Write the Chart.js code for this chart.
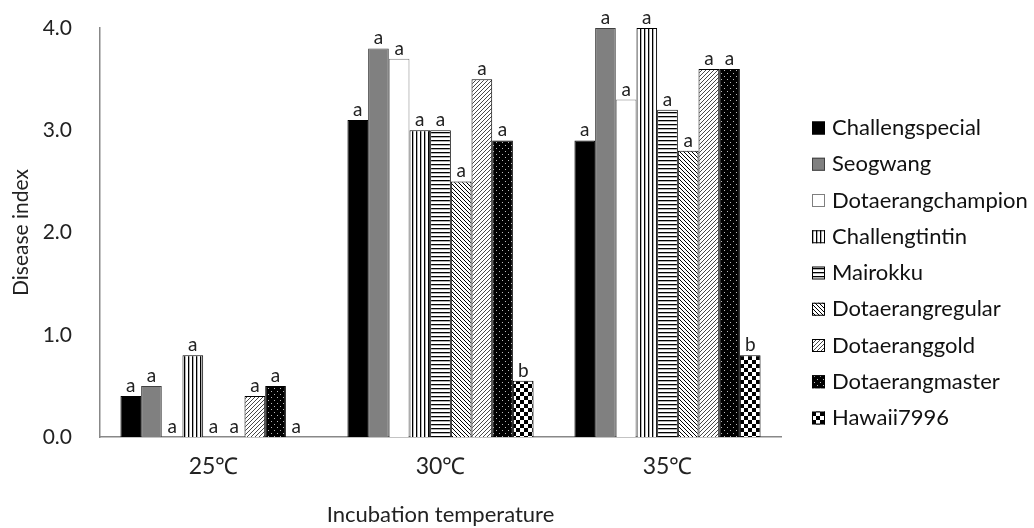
<!DOCTYPE html>
<html>
<head>
<meta charset="utf-8">
<script src="https://cdn.jsdelivr.net/npm/chart.js@4"></script>
<style>
  html, body { margin: 0; background: #fff; }
  #wrap { width: 1034px; height: 528px; }
</style>
</head>
<body>
<div id="wrap"><canvas id="chartDisease"></canvas></div>
<script>
// Datos
var temperaturas = ['25℃', '30℃', '35℃'];
var variedades = ['Challengspecial', 'Seogwang', 'Dotaerangchampion', 'Challengtintin', 'Mairokku',
  'Dotaerangregular', 'Dotaeranggold', 'Dotaerangmaster', 'Hawaii7996'];

var challengspecial   = [0.4, 3.1, 2.9];
var seogwang          = [0.5, 3.8, 4.0];
var dotaerangchampion = [0.0, 3.7, 3.3];
var challengtintin    = [0.8, 3.0, 4.0];
var mairokku          = [0.0, 3.0, 3.2];
var dotaerangregular  = [0.0, 2.5, 2.8];
var dotaeranggold     = [0.4, 3.5, 3.6];
var dotaerangmaster   = [0.5, 2.9, 3.6];
var hawaii7996        = [0.0, 0.55, 0.8];

// letras de significancia (por variedad, por temperatura)
var letrasHawaii = ['a', 'b', 'b'];
var letrasResto = ['a', 'a', 'a'];

var yTicks = [0, 1, 2, 3, 4];

var FONT = 'Lato, "Liberation Sans", sans-serif';

// Patrones de relleno
function tile(w, h, draw) {
  var c = document.createElement('canvas');
  c.width = w; c.height = h;
  var g = c.getContext('2d');
  draw(g, w, h);
  return document.createElement('canvas').getContext('2d').createPattern(c, 'repeat');
}

var patVertical = tile(4, 4, function (g) {
  g.fillStyle = '#fff'; g.fillRect(0, 0, 4, 4);
  g.fillStyle = '#000'; g.fillRect(0, 0, 1.3, 4);
});
var patHorizontal = tile(4, 4, function (g) {
  g.fillStyle = '#fff'; g.fillRect(0, 0, 4, 4);
  g.fillStyle = '#000'; g.fillRect(0, 0, 4, 1.3);
});
var patBack = tile(4, 4, function (g) {
  g.fillStyle = '#fff'; g.fillRect(0, 0, 4, 4);
  g.strokeStyle = '#000'; g.lineWidth = 1;
  g.beginPath();
  g.moveTo(-1, -1); g.lineTo(5, 5);
  g.moveTo(-1, 3); g.lineTo(1, 5);
  g.moveTo(3, -1); g.lineTo(5, 1);
  g.stroke();
});
var patForward = tile(4, 4, function (g) {
  g.fillStyle = '#fff'; g.fillRect(0, 0, 4, 4);
  g.strokeStyle = '#333'; g.lineWidth = 0.9;
  g.beginPath();
  g.moveTo(-1, 5); g.lineTo(5, -1);
  g.moveTo(-1, 1); g.lineTo(1, -1);
  g.moveTo(3, 5); g.lineTo(5, 3);
  g.stroke();
});
var patDots = tile(6, 6, function (g) {
  g.fillStyle = '#000'; g.fillRect(0, 0, 6, 6);
  g.fillStyle = '#bbb'; g.fillRect(1, 1, 1, 1);
  g.fillRect(4, 4, 1, 1);
});
var patChecker = tile(8, 8, function (g) {
  g.fillStyle = '#fff'; g.fillRect(0, 0, 8, 8);
  g.fillStyle = '#000'; g.fillRect(0, 0, 4, 4); g.fillRect(4, 4, 4, 4);
});

var series = [challengspecial, seogwang, dotaerangchampion, challengtintin, mairokku,
  dotaerangregular, dotaeranggold, dotaerangmaster, hawaii7996];
var rellenos = ['#000000', '#808080', '#ffffff', patVertical, patHorizontal, patBack, patForward, patDots, patChecker];
var bordes = ['#000', '#404040', '#7f7f7f', '#000', '#000', '#000', '#000', '#000', '#000'];

var datasets = [];
for (var i = 0; i < series.length; i++) {
  datasets.push({
    label: variedades[i],
    data: series[i],
    backgroundColor: rellenos[i],
    borderColor: bordes[i],
    borderWidth: 1,
    letras: i === 8 ? letrasHawaii : letrasResto,
    categoryPercentage: 0.82,
    barPercentage: 1.0
  });
}

// Letras sobre cada barra
var letrasPlugin = {
  id: 'letras',
  afterDatasetsDraw: function (chart) {
    var ctx = chart.ctx;
    ctx.save();
    ctx.font = '19px ' + FONT;
    ctx.fillStyle = '#222';
    ctx.textAlign = 'center';
    ctx.textBaseline = 'alphabetic';
    chart.data.datasets.forEach(function (ds, i) {
      chart.getDatasetMeta(i).data.forEach(function (bar, j) {
        ctx.fillText(ds.letras[j], bar.x, bar.y - 4);
      });
    });
    ctx.restore();
  }
};

// Leyenda a la derecha
var leyendaPlugin = {
  id: 'leyenda',
  afterDraw: function (chart) {
    var ctx = chart.ctx;
    ctx.save();
    ctx.font = '22px ' + FONT;
    ctx.textBaseline = 'middle';
    ctx.fillStyle = '#111';
    chart.data.datasets.forEach(function (ds, i) {
      var y = 128 + i * 36.25;
      ctx.fillStyle = ds.backgroundColor;
      ctx.fillRect(812, y - 6.5, 13, 13);
      ctx.strokeStyle = ds.borderColor;
      ctx.lineWidth = 1;
      ctx.strokeRect(812.5, y - 6, 12, 12);
      ctx.fillStyle = '#111';
      ctx.fillText(ds.label, 832, y);
    });
    ctx.restore();
  }
};

new Chart(document.getElementById('chartDisease'), {
  type: 'bar',
  data: { labels: temperaturas, datasets: datasets },
  plugins: [letrasPlugin, leyendaPlugin],
  options: {
    responsive: true,
    maintainAspectRatio: false,
    animation: false,
    layout: { padding: { top: 28, right: 253, left: 0, bottom: 0 } },
    plugins: { legend: { display: false }, tooltip: { enabled: false } },
    scales: {
      x: {
        grid: { display: false, drawTicks: false },
        border: { color: '#888', width: 1.5 },
        ticks: { color: '#222', font: { size: 23, family: FONT }, padding: 16 },
        title: { display: true, text: 'Incubation temperature', color: '#222', font: { size: 22, family: FONT }, padding: 0 },
        afterFit: function (s) { s.height = 91; }
      },
      y: {
        min: 0, max: 4,
        afterBuildTicks: function (s) { s.ticks = yTicks.map(function (v) { return { value: v }; }); },
        grid: { display: false, drawTicks: true, tickLength: 24 },
        border: { color: '#888', width: 1.5 },
        ticks: { color: '#222', font: { size: 21, family: FONT }, padding: 4,
          callback: function (v) { return v.toFixed(1); } },
        title: { display: true, text: 'Disease index', color: '#222', font: { size: 21, family: FONT }, padding: { top: 9, bottom: 0 } },
        afterFit: function (s) { s.width = 100; }
      }
    }
  }
});
</script>
</body>
</html>
